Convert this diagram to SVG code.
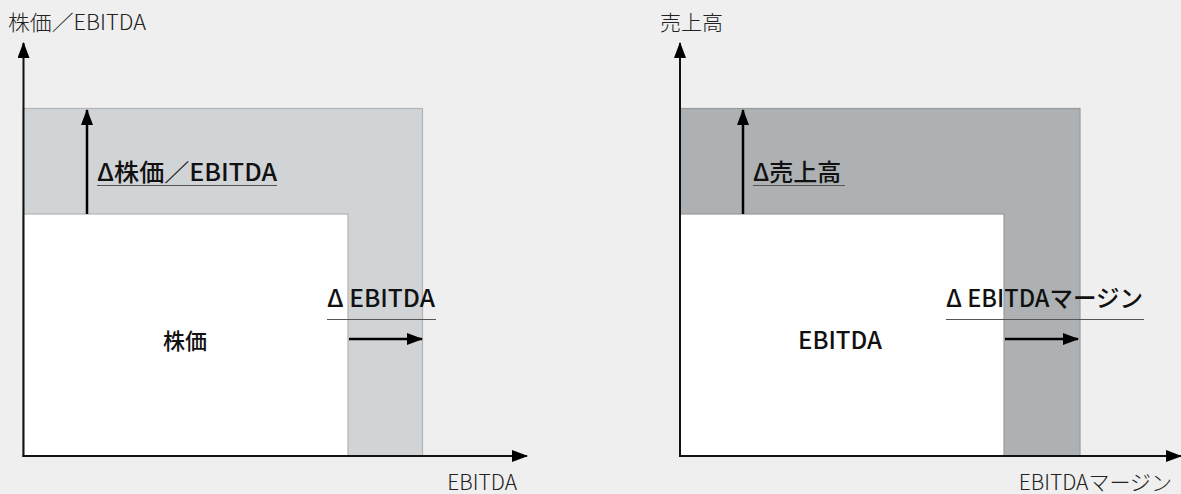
<svg xmlns="http://www.w3.org/2000/svg" width="1181" height="494" viewBox="0 0 1181 494">
<defs>
<style>
.ax{fill:#222;font-family:"Noto Sans CJK JP","Noto Sans",sans-serif;font-size:21px;font-weight:300}
.lb{fill:#111;font-family:"Noto Sans CJK JP","Noto Sans",sans-serif;font-size:24px;font-weight:500}
.axis{stroke:#111;stroke-width:2;fill:none}
.arr{stroke:#000;stroke-width:2.5;fill:none}
.ul{stroke:#555;stroke-width:1.2}
</style>
<marker id="ah" markerWidth="16" markerHeight="12" refX="15" refY="6" orient="auto" markerUnits="userSpaceOnUse">
<path d="M0,0 L16,6 L0,12 Z" fill="#000"/>
</marker>
</defs>
<rect width="1181" height="494" fill="#efefef"/>
<g id="left-panel">
<rect id="left-outer" x="23" y="108.5" width="399.5" height="347.5" fill="#d1d4d7" stroke="#b3b3b3" stroke-width="1.2"/>
<rect id="left-inner" x="23" y="214" width="325" height="242" fill="#fff" stroke="#b3b3b3" stroke-width="1.2"/>
<text class="ax" x="8" y="30" textLength="138" lengthAdjust="spacingAndGlyphs">株価／EBITDA</text>
<text class="lb" x="97" y="181" textLength="180" lengthAdjust="spacingAndGlyphs">Δ株価／EBITDA</text>
<line class="ul" x1="97" y1="185.5" x2="277" y2="185.5"/>
<text class="lb" x="327" y="307" textLength="108" lengthAdjust="spacingAndGlyphs">Δ EBITDA</text>
<line class="ul" x1="327" y1="319.5" x2="436" y2="319.5"/>
<text class="lb" x="185" y="349" text-anchor="middle" style="font-size:22px">株価</text>
<text class="ax" x="517" y="490" text-anchor="end">EBITDA</text>
</g>
<g id="right-panel">
<rect id="right-outer" x="680" y="108.5" width="400" height="347.5" fill="#adb1b3" stroke="#999" stroke-width="1.2"/>
<rect id="right-inner" x="680" y="214" width="324" height="242" fill="#fff" stroke="#999" stroke-width="1.2"/>
<text class="ax" x="660" y="30">売上高</text>
<text class="lb" x="753" y="181">Δ売上高</text>
<line class="ul" x1="753" y1="185.5" x2="845" y2="185.5"/>
<text class="lb" x="946" y="307" textLength="197" lengthAdjust="spacingAndGlyphs">Δ EBITDAマージン</text>
<line class="ul" x1="946" y1="319.5" x2="1144" y2="319.5"/>
<text class="lb" x="840" y="349" text-anchor="middle">EBITDA</text>
<text class="ax" x="1172" y="490" text-anchor="end">EBITDAマージン</text>
</g>
<g id="connectors">
<line class="axis" x1="23.5" y1="457" x2="23.5" y2="43" marker-end="url(#ah)"/>
<line class="axis" x1="22.5" y1="456" x2="527" y2="456" marker-end="url(#ah)"/>
<line class="arr" x1="87" y1="214" x2="87" y2="110" marker-end="url(#ah)"/>
<line class="arr" x1="349" y1="339" x2="422" y2="339" marker-end="url(#ah)"/>
<line class="axis" x1="680" y1="457" x2="680" y2="43" marker-end="url(#ah)"/>
<line class="axis" x1="679" y1="456" x2="1181" y2="456" marker-end="url(#ah)"/>
<line class="arr" x1="743" y1="214" x2="743" y2="110" marker-end="url(#ah)"/>
<line class="arr" x1="1005" y1="339" x2="1078" y2="339" marker-end="url(#ah)"/>
</g>
</svg>
